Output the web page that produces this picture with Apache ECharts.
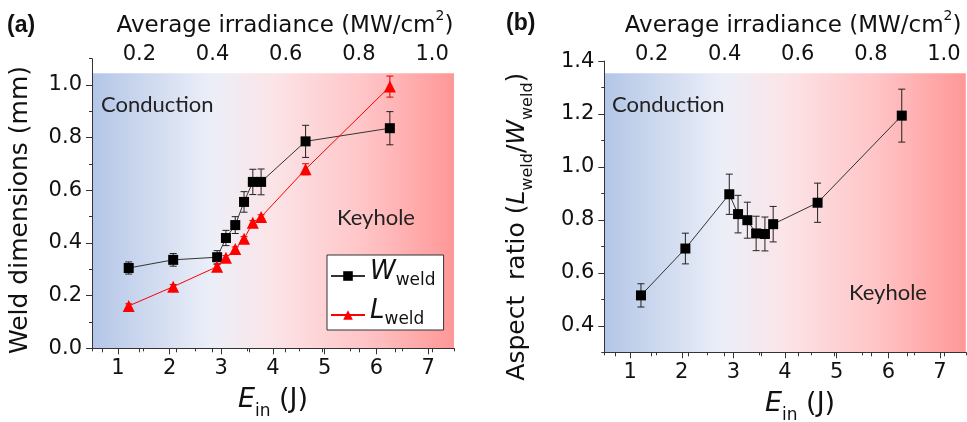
<!DOCTYPE html>
<html>
<head>
<meta charset="utf-8">
<script src="https://cdn.jsdelivr.net/npm/echarts@6/dist/echarts.min.js"></script>
<style>html,body{margin:0;padding:0;background:#fff;}#c{width:967px;height:422px;}</style>
</head>
<body>
<div id="c"></div>
<script>
// ---------- data ----------
const E_IN = [1.21, 2.07, 2.92, 3.09, 3.27, 3.44, 3.61, 3.77, 4.63, 6.26];
const W_WELD = [0.305, 0.336, 0.346, 0.419, 0.468, 0.556, 0.632, 0.632, 0.786, 0.836];
const W_ERR = [0.023, 0.024, 0.025, 0.029, 0.032, 0.039, 0.048, 0.049, 0.061, 0.063];
const L_WELD = [0.161, 0.234, 0.310, 0.344, 0.377, 0.416, 0.477, 0.499, 0.680, 0.994];
const L_ERR = [0.008, 0.008, 0.008, 0.008, 0.008, 0.008, 0.008, 0.008, 0.021, 0.040];
const ASPECT = [0.515, 0.692, 0.897, 0.822, 0.799, 0.749, 0.747, 0.784, 0.865, 1.194];
const ASPECT_ERR = [0.044, 0.058, 0.076, 0.071, 0.068, 0.065, 0.064, 0.067, 0.074, 0.100];

const E_TICKS = [1, 2, 3, 4, 5, 6, 7];
const E_MINOR = [0.5, 1.5, 2.5, 3.5, 4.5, 5.5, 6.5, 7.5];
const E_RANGE = [0.5, 7.5];
const IRR_PER_J = 0.1413;           // MW/cm^2 per J (top axis conversion)
const IRR_TICKS = [0.2, 0.4, 0.6, 0.8, 1.0];
const IRR_MINOR = [0.1, 0.2, 0.3, 0.4, 0.5, 0.6, 0.7, 0.8, 0.9, 1.0];
const A_Y_TICKS = [0, 0.2, 0.4, 0.6, 0.8, 1.0];
const A_Y_MINOR = [0.1, 0.3, 0.5, 0.7, 0.9, 1.1];
const A_Y_RANGE = [0, 1.1];
const B_Y_TICKS = [0.4, 0.6, 0.8, 1.0, 1.2, 1.4];
const B_Y_MINOR = [0.3, 0.5, 0.7, 0.9, 1.1, 1.3];
const B_Y_RANGE = [0.3, 1.4];

// ---------- helpers ----------
const FONT = 'DejaVu Sans';
const AX = '#333';
const bandGradient = () => new echarts.graphic.LinearGradient(0, 0, 1, 0, [
  {offset: 0, color: '#b3c6e7'},
  {offset: 0.33, color: '#eceff8'},
  {offset: 0.5, color: '#fbe4e7'},
  {offset: 0.75, color: '#ffc5c7'},
  {offset: 1, color: '#ff9797'}
]);
function pairs(xs, ys) { return xs.map((x, i) => [x, ys[i]]); }
function errData(xs, ys, es) { return xs.map((x, i) => [x, ys[i] - es[i], ys[i] + es[i]]); }
function errorBar(color) {
  return function (params, api) {
    const x = api.value(0), lo = api.value(1), hi = api.value(2);
    const t = api.coord([x, hi]), b = api.coord([x, lo]);
    const cw = 3.5, st = {stroke: color, lineWidth: 1};
    return {type: 'group', children: [
      {type: 'line', shape: {x1: t[0], y1: t[1], x2: b[0], y2: b[1]}, style: st},
      {type: 'line', shape: {x1: t[0] - cw, y1: t[1], x2: t[0] + cw, y2: t[1]}, style: st},
      {type: 'line', shape: {x1: b[0] - cw, y1: b[1], x2: b[0] + cw, y2: b[1]}, style: st}
    ]};
  };
}
const fmt1 = v => (Math.round(v * 10) / 10).toFixed(1);
const labelStyle = {fontFamily: FONT, fontSize: 21, color: '#111'};

function bottomAxes(grid, padLeft) {
  return [
    {type: 'value', gridIndex: grid, position: 'bottom', min: E_RANGE[0], max: E_RANGE[1],
     axisLine: {show: true, lineStyle: {color: AX}},
     axisTick: {show: true, customValues: E_TICKS, length: 6, lineStyle: {color: AX}},
     axisLabel: Object.assign({customValues: E_TICKS, margin: 10, formatter: v => String(Math.round(v))}, labelStyle),
     splitLine: {show: false},
     name: '{e|E}{s|in}{t| (J)}', nameLocation: 'middle', nameGap: 38,
     nameTextStyle: {fontFamily: FONT, color: '#111', padding: [0, 0, 0, padLeft],
       rich: {
         e: {fontFamily: FONT, fontSize: 27, fontStyle: 'italic', color: '#111', padding: [0, 0, 7, 0], verticalAlign: 'bottom'},
         s: {fontFamily: FONT, fontSize: 17, color: '#111', verticalAlign: 'bottom'},
         t: {fontFamily: FONT, fontSize: 27, color: '#111', padding: [0, 0, 7, 0], verticalAlign: 'bottom'}
       }}},
    {type: 'value', gridIndex: grid, position: 'bottom', min: E_RANGE[0], max: E_RANGE[1],
     axisLine: {show: false}, axisLabel: {show: false}, splitLine: {show: false},
     axisTick: {show: true, customValues: E_MINOR, length: 3, lineStyle: {color: AX}}}
  ];
}
function topAxis(grid, padLeft) {
  return {type: 'value', gridIndex: grid, position: 'top',
    min: E_RANGE[0] * IRR_PER_J, max: E_RANGE[1] * IRR_PER_J,
    axisLine: {show: true, lineStyle: {color: AX}},
    axisTick: {show: true, inside: true, customValues: IRR_MINOR, length: 4, lineStyle: {color: AX}},
    axisLabel: Object.assign({customValues: IRR_TICKS, margin: 8, formatter: fmt1}, labelStyle),
    splitLine: {show: false},
    name: '{a|Average irradiance (MW/cm}{p|2}{a|)}', nameLocation: 'middle', nameGap: 36,
    nameTextStyle: {fontFamily: FONT, color: '#111', padding: [0, 0, 0, padLeft],
      rich: {
        a: {fontFamily: FONT, fontSize: 23, color: '#111', lineHeight: 28, verticalAlign: 'bottom'},
        p: {fontFamily: FONT, fontSize: 14, color: '#111', lineHeight: 14, verticalAlign: 'top'}
      }}};
}
function leftAxes(grid, range, ticks, minor, name, rich, gap, padRight) {
  return [
    {type: 'value', gridIndex: grid, position: 'left', min: range[0], max: range[1],
     axisLine: {show: true, lineStyle: {color: AX}},
     axisTick: {show: true, customValues: ticks, length: 6, lineStyle: {color: AX}},
     axisLabel: Object.assign({customValues: ticks, margin: 10, formatter: fmt1}, labelStyle),
     splitLine: {show: false},
     name: name, nameLocation: 'middle', nameGap: gap,
     nameTextStyle: {fontFamily: FONT, fontSize: 25, color: '#111', padding: [0, padRight, 0, 0], rich: rich}},
    {type: 'value', gridIndex: grid, position: 'left', min: range[0], max: range[1],
     axisLine: {show: false}, axisLabel: {show: false}, splitLine: {show: false},
     axisTick: {show: true, customValues: minor, length: 3, lineStyle: {color: AX}}}
  ];
}
function hiddenY(grid) {
  return {type: 'value', gridIndex: grid, min: 0, max: 1, show: false};
}

const aspectRich = {
  n: {fontFamily: FONT, fontSize: 25, color: '#111', padding: [0, 0, 6, 0], verticalAlign: 'bottom'},
  i: {fontFamily: FONT, fontSize: 25, fontStyle: 'italic', color: '#111', padding: [0, 0, 6, 0], verticalAlign: 'bottom'},
  s: {fontFamily: FONT, fontSize: 16, color: '#111', verticalAlign: 'bottom'}
};

const chart = echarts.init(document.getElementById('c'), null, {renderer: 'canvas'});
const option = {
  backgroundColor: '#fff',
  animation: false,
  grid: [
    {left: 92, right: 513, top: 58.7, bottom: 73.7, outerBoundsMode: 'none', containLabel: false},
    {left: 92, right: 513, top: 73.3, bottom: 73.7, outerBoundsMode: 'none', containLabel: false, show: true, borderWidth: 0, backgroundColor: bandGradient()},
    {left: 604.3, right: 1.2, top: 61.1, bottom: 69.7, outerBoundsMode: 'none', containLabel: false},
    {left: 604.3, right: 1.2, top: 73.3, bottom: 69.7, outerBoundsMode: 'none', containLabel: false, show: true, borderWidth: 0, backgroundColor: bandGradient()}
  ],
  xAxis: [
    ...bottomAxes(0, 0),
    topAxis(1, 24),
    ...bottomAxes(2, 30),
    topAxis(3, 16)
  ],
  yAxis: [
    ...leftAxes(0, A_Y_RANGE, A_Y_TICKS, A_Y_MINOR, 'Weld dimensions (mm)', {}, 59, 13),
    hiddenY(1),
    ...leftAxes(2, B_Y_RANGE, B_Y_TICKS, B_Y_MINOR,
      '{n|Aspect  ratio (}{i|L}{s|weld}{n|/}{i|W}{s|weld}{n|)}', aspectRich, 68, 40),
    hiddenY(3)
  ],
  legend: {
    data: ['W_weld', 'L_weld'],
    orient: 'vertical', left: 327, top: 255,
    padding: [4, 8, 2, 3], itemGap: 9, itemWidth: 34, itemHeight: 12,
    backgroundColor: '#fff', borderColor: '#333', borderWidth: 1, borderRadius: 0,
    formatter: name => name === 'W_weld' ? '{i|W}{s|weld}' : '{i|L}{s|weld}',
    textStyle: {
      rich: {
        i: {fontFamily: FONT, fontSize: 26, fontStyle: 'italic', color: '#111', lineHeight: 26, padding: [0, 0, 4, 0], verticalAlign: 'bottom'},
        s: {fontFamily: FONT, fontSize: 17, color: '#111', verticalAlign: 'bottom'}
      }
    }
  },
  graphic: [
    {type: 'text', left: 7, top: 14, style: {text: '(a)', fontFamily: 'Liberation Sans', fontWeight: 'bold', fontSize: 23, fill: '#111'}},
    {type: 'text', left: 506, top: 12, style: {text: '(b)', fontFamily: 'Liberation Sans', fontWeight: 'bold', fontSize: 23, fill: '#111'}},
    {type: 'text', left: 101, top: 94, z: 10, style: {text: 'Conduction', fontFamily: 'Lato', fontSize: 22, fill: '#222'}},
    {type: 'text', left: 337, top: 207, z: 10, style: {text: 'Keyhole', fontFamily: 'Lato', fontSize: 22, fill: '#222'}},
    {type: 'text', left: 612, top: 94, z: 10, style: {text: 'Conduction', fontFamily: 'Lato', fontSize: 22, fill: '#222'}},
    {type: 'text', left: 849, top: 282, z: 10, style: {text: 'Keyhole', fontFamily: 'Lato', fontSize: 22, fill: '#222'}}
  ],
  series: [
    {type: 'custom', name: 'W_err', xAxisIndex: 0, yAxisIndex: 0, renderItem: errorBar('#222'),
     encode: {x: 0, y: [1, 2]}, data: errData(E_IN, W_WELD, W_ERR), z: 3},
    {type: 'custom', name: 'L_err', xAxisIndex: 0, yAxisIndex: 0, renderItem: errorBar('#e00000'),
     encode: {x: 0, y: [1, 2]}, data: errData(E_IN, L_WELD, L_ERR), z: 3},
    {type: 'line', name: 'W_weld', xAxisIndex: 0, yAxisIndex: 0, data: pairs(E_IN, W_WELD),
     symbol: 'rect', symbolSize: 10, itemStyle: {color: '#000'}, lineStyle: {color: '#333', width: 1}, z: 4},
    {type: 'line', name: 'L_weld', xAxisIndex: 0, yAxisIndex: 0, data: pairs(E_IN, L_WELD),
     symbol: 'triangle', symbolSize: 12, itemStyle: {color: '#ff0000'}, lineStyle: {color: '#ff0000', width: 1}, z: 4},
    {type: 'custom', name: 'A_err', xAxisIndex: 3, yAxisIndex: 3, renderItem: errorBar('#222'),
     encode: {x: 0, y: [1, 2]}, data: errData(E_IN, ASPECT, ASPECT_ERR), z: 3},
    {type: 'line', name: 'Aspect', xAxisIndex: 3, yAxisIndex: 3, data: pairs(E_IN, ASPECT),
     symbol: 'rect', symbolSize: 10, itemStyle: {color: '#000'}, lineStyle: {color: '#333', width: 1}, z: 4}
  ]
};
chart.setOption(option);
</script>
</body>
</html>
